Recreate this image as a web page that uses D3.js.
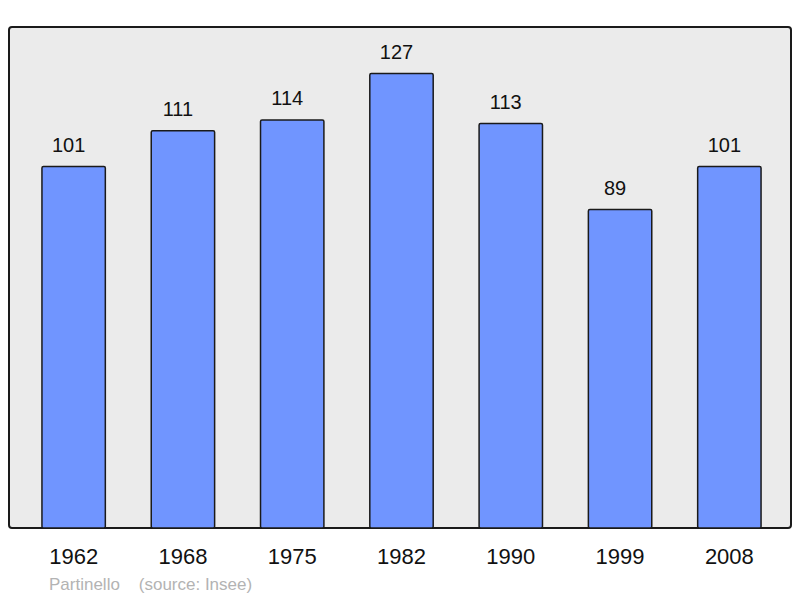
<!DOCTYPE html>
<html>
<head>
<meta charset="utf-8">
<script src="https://cdn.jsdelivr.net/npm/d3@7"></script>
<style>
  body { margin: 0; background: #fff; }
  svg text { font-family: "Liberation Sans", Arial, sans-serif; }
</style>
</head>
<body>
<div class="bar-chart"></div>
<script>
const years = ["1962", "1968", "1975", "1982", "1990", "1999", "2008"];
const population = [101, 111, 114, 127, 113, 89, 101];
const credit = "Partinello    (source: Insee)";

const width = 800, height = 598;
const svg = d3.select(".bar-chart")
    .append("svg")
    .attr("width", width)
    .attr("height", height);

// panel
svg.append("rect")
    .attr("x", 9)
    .attr("y", 27)
    .attr("width", 782)
    .attr("height", 501)
    .attr("rx", 3)
    .attr("fill", "#ebebeb")
    .attr("stroke", "#1a1a1a")
    .attr("stroke-width", 2);

let xScale = d3.scaleBand()
    .domain(years)
    .range([19, 784])
    .paddingInner(0.42)
    .paddingOuter(0.21);

let yScale = d3.scaleLinear()
    .domain([0, 140])
    .range([528, 27]);

svg.selectAll(".bar")
    .data(population)
    .enter()
    .append("rect")
    .attr("class", "bar")
    .attr("x", (d, i) => xScale(years[i]))
    .attr("y", d => yScale(d))
    .attr("width", xScale.bandwidth())
    .attr("height", d => yScale(0) - yScale(d))
    .attr("rx", 1.5)
    .attr("fill", "#7095ff")
    .attr("stroke", "#1a1a1a")
    .attr("stroke-width", 1.5);

// value labels sit a little left of the bar centre
svg.selectAll(".value")
    .data(population)
    .enter()
    .append("text")
    .attr("class", "value")
    .attr("x", (d, i) => xScale(years[i]) + xScale.bandwidth() / 2 - 5)
    .attr("y", d => yScale(d) - 15)
    .attr("text-anchor", "middle")
    .attr("font-size", 20)
    .attr("fill", "#111")
    .text(d => d);

// x axis labels
let xAxis = d3.axisBottom(xScale).tickSize(0).tickPadding(0);
let gx = svg.append("g")
    .attr("class", "axis x-axis")
    .attr("transform", "translate(0, 548)")
    .call(xAxis);
gx.select(".domain").remove();
gx.selectAll("text")
    .attr("font-size", 22)
    .attr("fill", "#111")
    .attr("dy", "0.71em")
    .attr("font-family", "Liberation Sans, Arial, sans-serif");

svg.append("text")
    .attr("x", 49)
    .attr("y", 590)
    .attr("font-size", 17)
    .attr("fill", "#b3b3b3")
    .attr("xml:space", "preserve")
    .style("white-space", "pre")
    .text(credit);
</script>
</body>
</html>
